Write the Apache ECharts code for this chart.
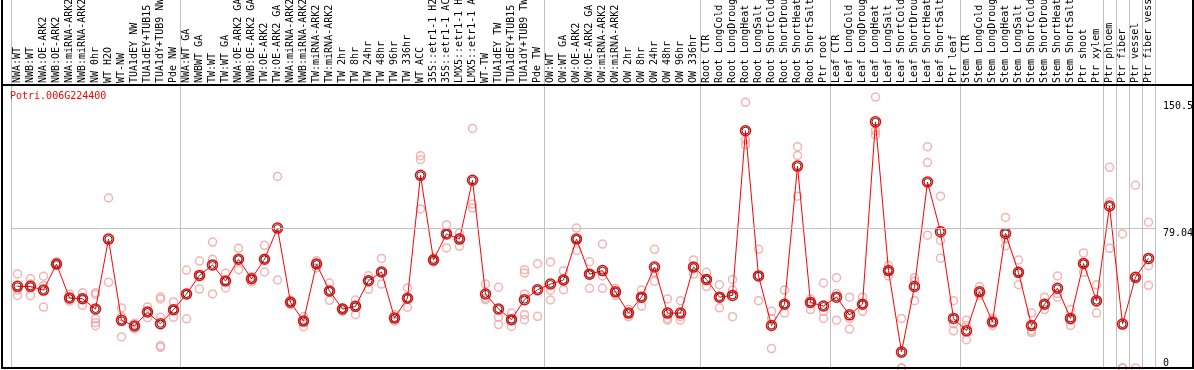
<!DOCTYPE html>
<html><head><meta charset="utf-8">
<script src="https://cdn.jsdelivr.net/npm/echarts@6/dist/echarts.min.js"></script>
<style>html,body{margin:0;padding:0;background:#fff}#c{width:1194px;height:370px}</style>
</head><body><div id="c"></div>
<script>
const geneName = 'Potri.006G224400';
const categories = [
 'NWA:WT','NWB:WT','NWA:OE-ARK2','NWB:OE-ARK2','NWA:miRNA-ARK2','NWB:miRNA-ARK2','NW 0hr','WT H2O','WT-NW','TUA1dEY NW','TUA1dEY+TUB15 NW','TUA1dY+TUB9 NW','Pde NW',
 'NWA:WT GA','NWBWT GA','TW:WT','TW:WT GA','NWA:OE-ARK2 GA','NWB:OE-ARK2 GA','TW:OE-ARK2','TW:OE-ARK2 GA','NWA:miRNA-ARK2','NWB:miRNA-ARK2','TW:miRNA-ARK2','TW:miRNA-ARK2',
 'TW 2hr','TW 8hr','TW 24hr','TW 48hr','TW 96hr','TW 336hr','WT ACC','35S::etr1-1 H2O','35S::etr1-1 ACC','LMX5::etr1-1 H2O','LMX5::etr1-1 ACC','WT-TW','TUA1dEY TW','TUA1dEY+TUB15 TW','TUA1dY+TUB9 TW','Pde TW',
 'OW:WT','OW:WT GA','OW:OE-ARK2','OW:OE-ARK2 GA','OW:miRNA-ARK2','OW:miRNA-ARK2','OW 2hr','OW 8hr','OW 24hr','OW 48hr','OW 96hr','OW 336hr',
 'Root CTR','Root LongCold','Root LongDrought','Root LongHeat','Root LongSalt','Root ShortCold','Root ShortDrought','Root ShortHeat','Root ShortSalt','Ptr root',
 'Leaf CTR','Leaf LongCold','Leaf LongDrought','Leaf LongHeat','Leaf LongSalt','Leaf ShortCold','Leaf ShortDrought','Leaf ShortHeat','Leaf ShortSalt','Ptr leaf',
 'Stem CTR','Stem LongCold','Stem LongDrought','Stem LongHeat','Stem LongSalt','Stem ShortCold','Stem ShortDrought','Stem ShortHeat','Stem ShortSalt','Ptr shoot','Ptr xylem',
 'Ptr phloem','Ptr fiber','Ptr vessel','Ptr fiber vessel'
];
const means = [
 46.1,46.1,44.0,58.7,39.5,39.1,33.3,72.8,26.9,23.7,31.6,25.0,32.9,
 41.8,52.3,58.2,49.1,61.4,50.4,61.4,79.0,37.1,26.5,58.7,43.5,
 33.3,34.8,49.3,54.2,28.2,39.4,108.8,61.0,75.7,72.8,106.0,41.8,33.3,27.3,38.6,44.2,
 47.4,49.7,72.8,53,55,43,31,40,57,31,31,57,
 50,40,41,134,52,24,36,114,37,35,
 40,30,36,139,55,9,46,105,77,28,
 21,43,26,76,54,24,36,45,28,59,38,
 91.5,24.8,51.2,61.9
];
const replicates = [
 [53.1,44,41],[50.4,47.4,41],[51.8,46.5,34.4],[59.9,58.7,57.9],[41.8,39,37.7],[42.5,39.4,35.4],[42.5,41.5,27.8,25.6,23.9],[96,48.4],[33.9,29,17.5],[25.2,24.1,22.2],[34.5,31.6,28.4],[40.1,39,28.6,12.6,11.7],[37.3,32.9,28.6],
 [55.3,41.8,27.8],[60.4,52.3,44.6],[71.1,61.4,41.8],[53.5,49.1,45.2],[67.6,61.4,55.5],[51.6,50.4,48.6],[69.3,61.4,54.2],[108.2,49.7],[38.2,37.1,35.8],[29,26.5,23.3],[60.6,58.7,56.5],[48,43.5,38.2],
 [33.9,33.3,32],[38.4,34.8,30.1],[52.1,49.3,44.4],[61.9,54.2,47.4],[30.1,28.2,26.4],[45.2,39.4,34.3],[119.9,117.6,89.8],[62.1,61,59.9],[80.9,75.7,67.8],[76.2,73.5,68.7],[135.3,92.6,90.3],[47.4,39.4,38.6],[45.6,28.6,24.5],[31.1,27.3,23.5],[55.5,53.6,41.8,30.1,27.3],[58.9,29.2],
 [59.9,43.9,38.4],[54.9,49.7,44.2],[79,72.8,66.4],[60,53,45],[70,52,45],[45,43,41],[33,31,29],[44,40,35],[67,54,49],[39,28,27],[38,29,27],[61,56,53],
 [54,50,46],[47,40,34],[50,44,29],[150,129,126],[67,52,38],[32,28,11],[44,36,31],[125,120,97],[39,37,33],[48,32,28],
 [51,42,27],[40,28,22],[40,36,32],[153,134,131.6],[58,55,52],[28,0,0],[51,49,38],[125,116,75],[97,72,62],[38,25,21],
 [27,24,16],[46,43,41],[28,26,24],[85,73,69],[61,54,47],[31,21,20],[40,36,33],[52,42,40],[33,27,24],[65,59,54],[47,37,31],
 [113.3,93.7,67.6],[75.7,0,0],[103.2,50.4,0],[82.3,57.8,46.7]
];
const separatorIndices = [0,13,41,53,63,73,84,85,86,87];
const yTickLabels = [79.04, 150.5];
const yZeroLabel = [0];
const gridLineValue = 79.04;
const yMax = 207.8;

const FONT = 'DejaVu Sans Mono';
const repPoints = [];
replicates.forEach((arr, i) => arr.forEach(v => repPoints.push([i, v])));

const chart = echarts.init(document.getElementById('c'), null, {renderer: 'canvas'});
chart.setOption({
  animation: false,
  backgroundColor: '#fff',
  title: {
    text: geneName, left: 10, top: 91, padding: 0,
    textStyle: {color: '#ff0000', fontSize: 10, fontFamily: FONT, fontWeight: 'normal'}
  },
  grid: {left: 11, right: 39, top: 0, bottom: 2, containLabel: false, outerBoundsMode: 'none'},
  xAxis: {
    type: 'category', data: categories, position: 'top', offset: -85,
    boundaryGap: true,
    axisLine: {show: false}, axisTick: {show: false},
    axisLabel: {interval: 0, rotate: 90, margin: 2, color: '#000', fontSize: 10, fontFamily: FONT},
    splitLine: {show: true, interval: (idx) => separatorIndices.includes(idx),
      lineStyle: {color: '#c0c0c0', width: 1}}
  },
  yAxis: [{
    type: 'value', min: 0, max: yMax, position: 'right',
    axisLine: {show: false}, axisTick: {show: false}, splitLine: {show: false},
    axisLabel: {customValues: yTickLabels, verticalAlign: 'top', margin: 8, color: '#000', fontSize: 10, fontFamily: FONT,
      showMinLabel: true, showMaxLabel: true}
  }, {
    type: 'value', min: 0, max: yMax, position: 'right',
    axisLine: {show: false}, axisTick: {show: false}, splitLine: {show: false},
    axisLabel: {customValues: yZeroLabel, verticalAlign: 'bottom', margin: 8, color: '#000', fontSize: 10, fontFamily: FONT,
      showMinLabel: true}
  }],
  graphic: [
    {type: 'rect', silent: true, z: 100, shape: {x: 2, y: -4, width: 1191, height: 372},
      style: {fill: null, stroke: '#000', lineWidth: 2}},
    {type: 'line', silent: true, z: 100, shape: {x1: 1, y1: 85, x2: 1194, y2: 85},
      style: {stroke: '#000', lineWidth: 2}}
  ],
  series: [
    {
      type: 'scatter', data: repPoints, symbol: 'circle', symbolSize: 8, z: 2,
      itemStyle: {color: 'rgba(0,0,0,0)', borderColor: '#f0a0a0', borderWidth: 1.5},
      markLine: {silent: true, symbol: ['none', 'none'], label: {show: false},
        lineStyle: {color: '#c0c0c0', type: 'solid', width: 1}, data: [{yAxis: gridLineValue}]}
    },
    {
      type: 'line', data: means, symbol: 'circle', symbolSize: 10, z: 3,
      lineStyle: {color: '#ff0000', width: 1},
      itemStyle: {color: 'rgba(0,0,0,0)', borderColor: '#ff0000', borderWidth: 1.5}
    },
    {
      type: 'scatter', data: means, symbol: 'circle', symbolSize: 7, z: 4,
      itemStyle: {color: 'rgba(0,0,0,0)', borderColor: '#000', borderWidth: 1}
    }
  ]
});
</script></body></html>
